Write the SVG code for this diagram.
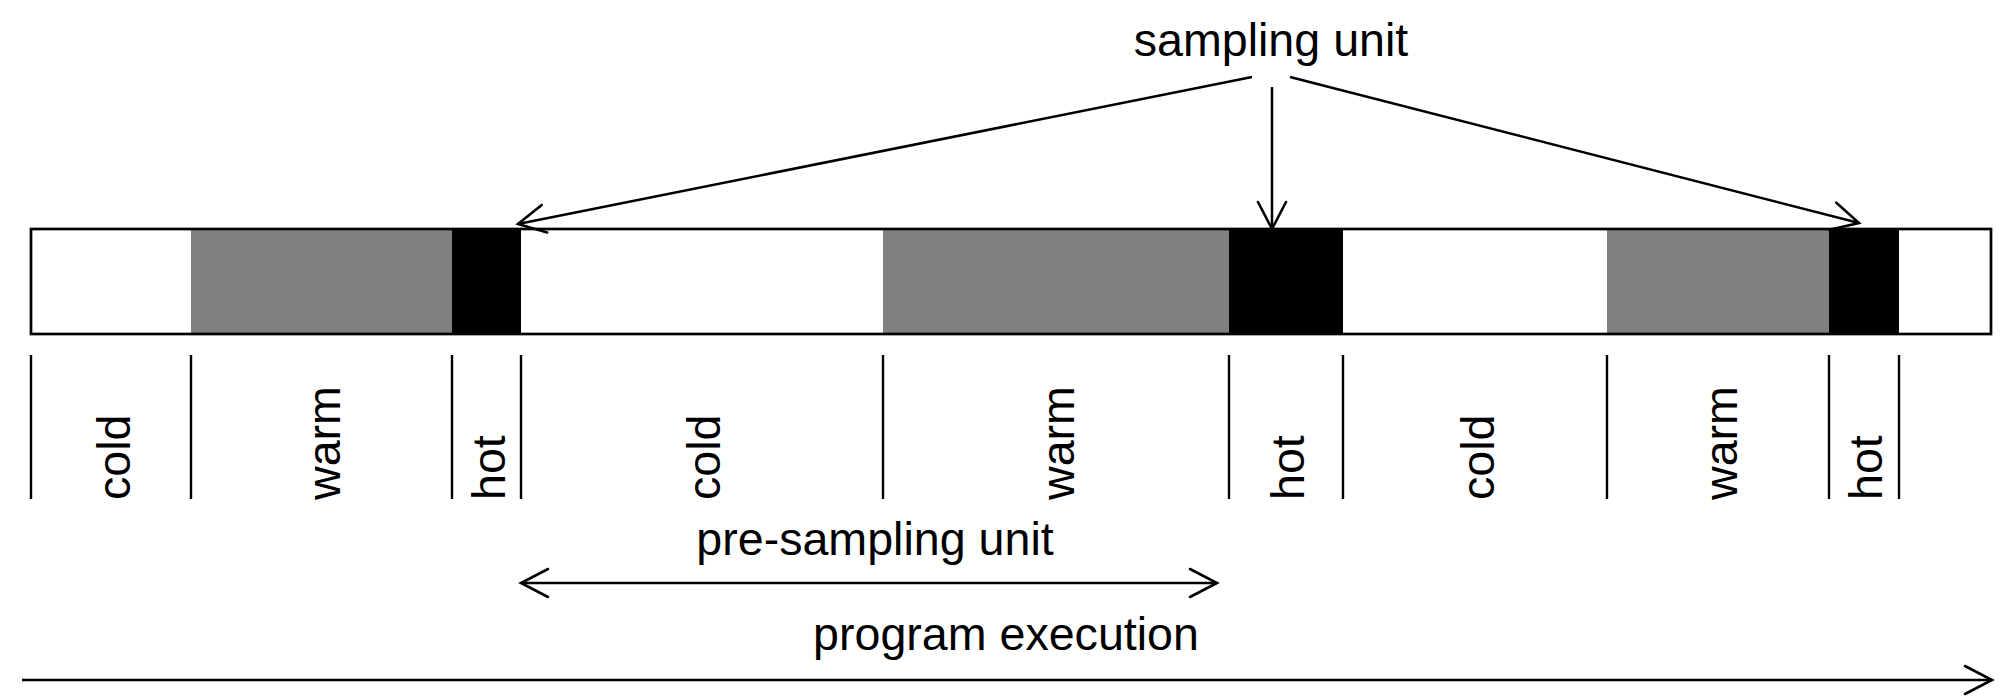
<svg xmlns="http://www.w3.org/2000/svg" width="2013" height="698" viewBox="0 0 2013 698">
  <style>
    .lbl { font-family: "Liberation Sans", Arial, sans-serif; font-size: 46.6px; fill: #000; }
    .tick { stroke: #000; stroke-width: 2.4; fill: none; }
    .conn { stroke: #000; stroke-width: 2.5; fill: none; }
    .cold { fill: #fff; }
    .warm { fill: #808080; }
    .hot { fill: #000; }
  </style>
  <defs>
    <marker id="arr" markerUnits="userSpaceOnUse" orient="auto-start-reverse" overflow="visible" refX="0" refY="0" markerWidth="40" markerHeight="40" viewBox="-40 -20 40 40">
      <path d="M-27,-14 L0,0 L-27,14" fill="none" stroke="#000" stroke-width="2.6" stroke-linecap="round"/>
    </marker>
  </defs>
  <rect width="2013" height="698" fill="#fff"/>

  <g id="bar">
    <rect class="cold" x="31" y="229" width="160" height="105"/>
    <rect class="warm" x="191" y="229" width="261" height="105"/>
    <rect class="hot" x="452" y="229" width="69" height="105"/>
    <rect class="cold" x="521" y="229" width="362" height="105"/>
    <rect class="warm" x="883" y="229" width="346" height="105"/>
    <rect class="hot" x="1229" y="229" width="114" height="105"/>
    <rect class="cold" x="1343" y="229" width="264" height="105"/>
    <rect class="warm" x="1607" y="229" width="222" height="105"/>
    <rect class="hot" x="1829" y="229" width="70" height="105"/>
    <rect x="31" y="229" width="1960" height="105" fill="none" stroke="#000" stroke-width="2.7"/>
  </g>

  <g id="ticks">
    <line class="tick" x1="31" y1="355" x2="31" y2="499"/>
    <line class="tick" x1="191" y1="355" x2="191" y2="499"/>
    <line class="tick" x1="452" y1="355" x2="452" y2="499"/>
    <line class="tick" x1="521" y1="355" x2="521" y2="499"/>
    <line class="tick" x1="883" y1="355" x2="883" y2="499"/>
    <line class="tick" x1="1229" y1="355" x2="1229" y2="499"/>
    <line class="tick" x1="1343" y1="355" x2="1343" y2="499"/>
    <line class="tick" x1="1607" y1="355" x2="1607" y2="499"/>
    <line class="tick" x1="1829" y1="355" x2="1829" y2="499"/>
    <line class="tick" x1="1899" y1="355" x2="1899" y2="499"/>
  </g>

  <g id="phase-labels">
    <text class="lbl" transform="translate(130,500) rotate(-90)">cold</text>
    <text class="lbl" transform="translate(340,500) rotate(-90)">warm</text>
    <text class="lbl" transform="translate(505,500) rotate(-90)">hot</text>
    <text class="lbl" transform="translate(720,500) rotate(-90)">cold</text>
    <text class="lbl" transform="translate(1074,500) rotate(-90)">warm</text>
    <text class="lbl" transform="translate(1304,500) rotate(-90)">hot</text>
    <text class="lbl" transform="translate(1494,500) rotate(-90)">cold</text>
    <text class="lbl" transform="translate(1737,500) rotate(-90)">warm</text>
    <text class="lbl" transform="translate(1882,500) rotate(-90)">hot</text>
  </g>

  <g id="sampling-unit">
    <text class="lbl" x="1271" y="56" text-anchor="middle">sampling unit</text>
  </g>
  <g id="pre-sampling-unit">
    <text class="lbl" x="875" y="555" text-anchor="middle">pre-sampling unit</text>
  </g>
  <g id="program-execution">
    <text class="lbl" x="1006" y="650" text-anchor="middle">program execution</text>
  </g>

  <g id="connectors">
    <line class="conn" x1="1252" y1="77" x2="518" y2="224" marker-end="url(#arr)"/>
    <line class="conn" x1="1272" y1="87" x2="1272" y2="229" marker-end="url(#arr)"/>
    <line class="conn" x1="1290" y1="77" x2="1859" y2="223" marker-end="url(#arr)"/>
    <line class="conn" x1="521" y1="583" x2="1217" y2="583" marker-start="url(#arr)" marker-end="url(#arr)"/>
    <line class="conn" x1="22" y1="680" x2="1992" y2="680" marker-end="url(#arr)"/>
  </g>
</svg>
